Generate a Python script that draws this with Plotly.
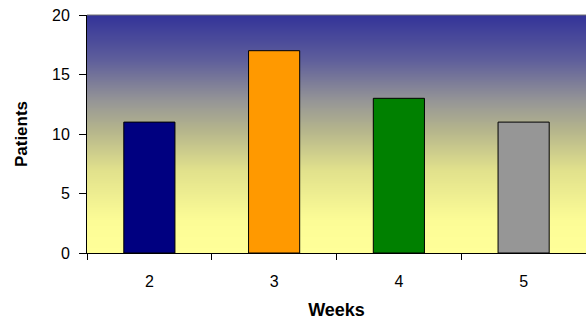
import plotly.graph_objects as go

# Chart data
weeks = ["2", "3", "4", "5"]
patients = [11, 17, 13, 11]
bar_colors = ["#000080", "#FF9900", "#008000", "#969696"]
y_ticks = [0, 5, 10, 15, 20]

# Background gradient (bottom -> top) for the plot area
grad_pos = [0.0, 0.14, 0.35, 0.52, 0.64, 0.81, 1.0]
grad_cols = ["#FFFF99", "#FCFC96", "#E1E18C", "#B4B48C", "#969696", "#5F5F9B", "#333399"]

fig = go.Figure()

# Gradient background: smooth heatmap on the hidden base axes
fig.add_trace(go.Heatmap(
    x=[0, 1],
    y=grad_pos,
    z=[[p, p] for p in grad_pos],
    colorscale=[[p, c] for p, c in zip(grad_pos, grad_cols)],
    zmin=0, zmax=1,
    zsmooth="best",
    showscale=False,
    hoverinfo="skip",
    xaxis="x", yaxis="y",
))

# Bars on the overlaying (visible) axes, drawn above the gradient
fig.add_trace(go.Bar(
    x=weeks,
    y=patients,
    marker=dict(color=bar_colors, line=dict(color="black", width=1)),
    width=0.41,
    showlegend=False,
    xaxis="x2", yaxis="y2",
))

font = dict(family="Liberation Sans, Arial, sans-serif", size=16, color="black")

fig.update_layout(
    width=586, height=320,
    margin=dict(l=87, r=0, t=15, b=67),
    paper_bgcolor="white",
    plot_bgcolor="rgba(0,0,0,0)",
    font=font,
    showlegend=False,
    xaxis=dict(range=[0, 1], visible=False, fixedrange=True),
    yaxis=dict(range=[0, 1], visible=False, fixedrange=True),
    xaxis2=dict(
        overlaying="x", anchor="y2",
        type="category",
        tickson="boundaries",
        ticks="outside", ticklen=6, tickcolor="black",
        showline=True, linecolor="black", linewidth=1,
        showgrid=False, zeroline=False,
        ticklabelstandoff=14,
        title=dict(text="<b>Weeks</b>", font=dict(size=18), standoff=14),
    ),
    yaxis2=dict(
        overlaying="y", anchor="x2",
        range=[0, 20],
        tickvals=y_ticks,
        ticks="outside", ticklen=7, tickcolor="black",
        showline=True, linecolor="black", linewidth=1,
        showgrid=False, zeroline=False,
        ticklabelstandoff=6,
        title=dict(text="<b>Patients</b>", font=dict(size=17), standoff=20),
    ),
    shapes=[dict(type="line", xref="paper", yref="paper", x0=0, x1=1, y0=1, y1=1,
                 line=dict(color="#707070", width=1))],
)

fig.write_html("out.html")
